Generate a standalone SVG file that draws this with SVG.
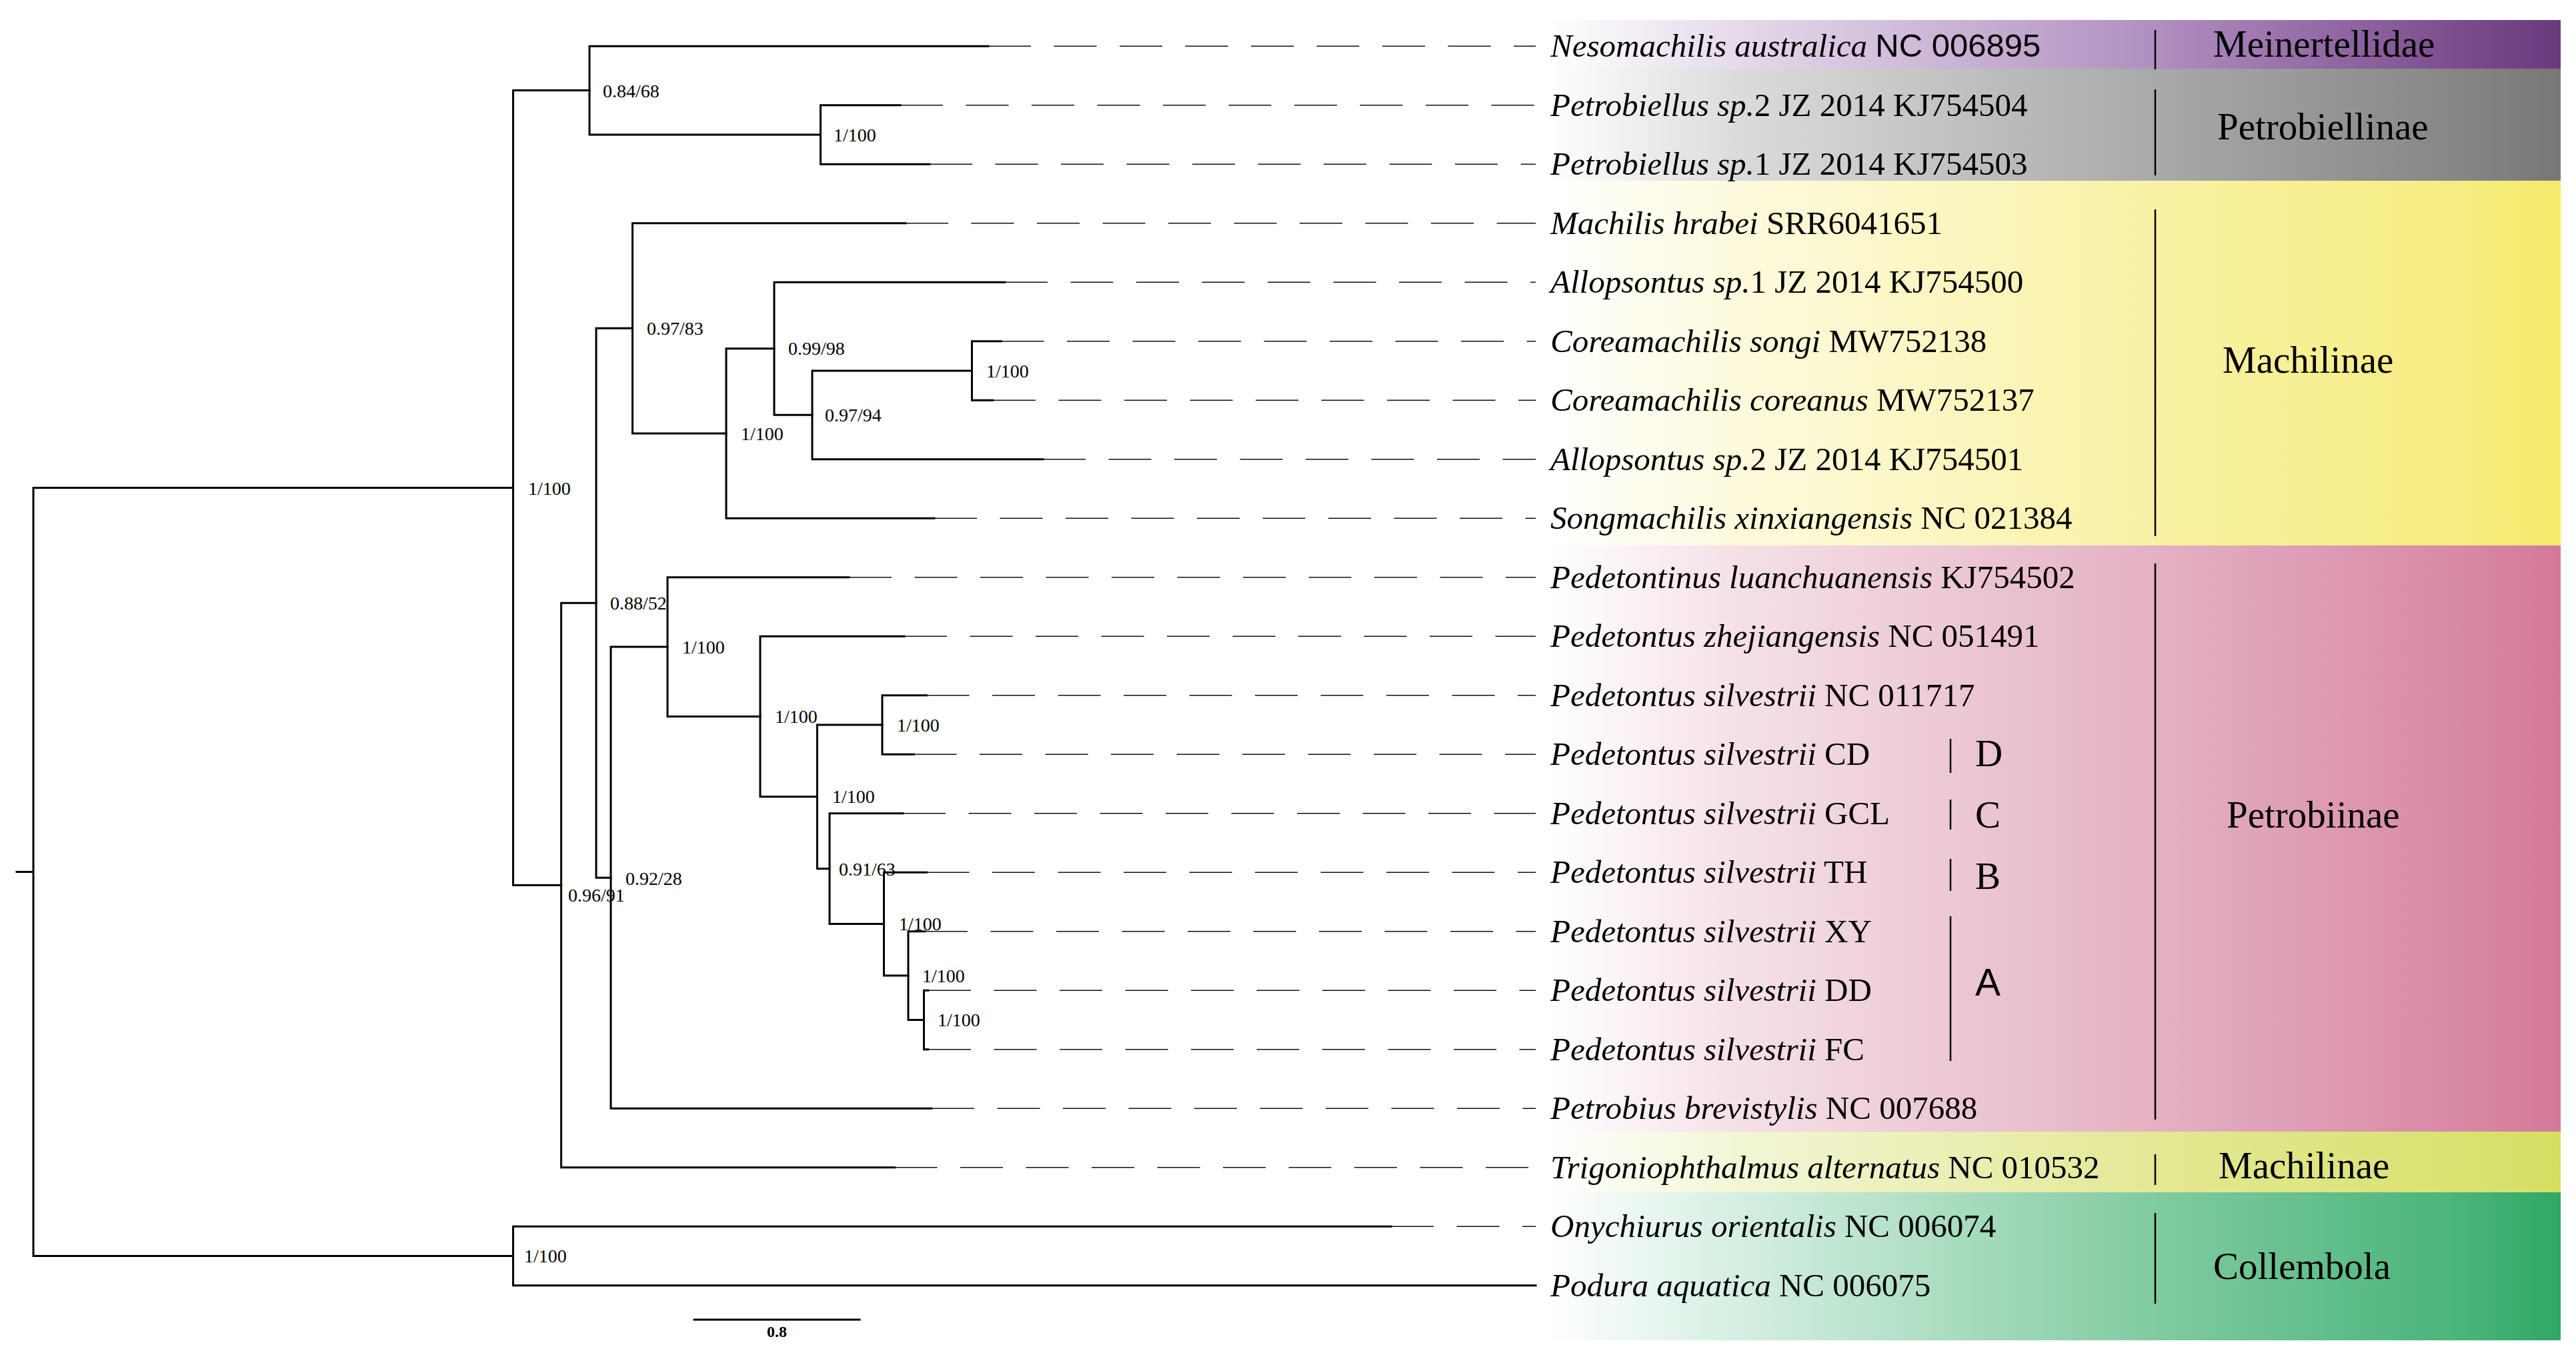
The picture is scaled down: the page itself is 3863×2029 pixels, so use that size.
<svg xmlns="http://www.w3.org/2000/svg" width="3863" height="2029" viewBox="0 0 3863 2029">
<style>
.br{fill:none;stroke:#000;stroke-width:3;stroke-linecap:square}
.ds{fill:none;stroke:#111;stroke-width:1.4;stroke-dasharray:64 34.5}
.sep{stroke:#000;stroke-width:2.5}
.sup{font-family:"Liberation Serif","Times New Roman",serif;font-size:28px;fill:#000}
.tip{font-family:"Liberation Serif","Times New Roman",serif;font-size:49px;fill:#000}
.tip .i{font-style:italic}
.grp{font-family:"Liberation Serif","Times New Roman",serif;font-size:57px;fill:#000}
.let{font-family:"Liberation Serif","Times New Roman",serif;font-size:57px;fill:#000}
.sans{font-family:"Liberation Sans",Arial,sans-serif}
</style>
<defs>
<linearGradient id="gPur" gradientUnits="userSpaceOnUse" x1="2320" y1="0" x2="3840" y2="0">
<stop offset="0" stop-color="#ffffff"/><stop offset="0.184" stop-color="#e6daeb"/><stop offset="0.6" stop-color="#b08fc0"/><stop offset="0.908" stop-color="#7b4a8c"/><stop offset="1" stop-color="#6b3a7e"/>
</linearGradient>
<linearGradient id="gGry" gradientUnits="userSpaceOnUse" x1="2320" y1="0" x2="3840" y2="0">
<stop offset="0" stop-color="#ffffff"/><stop offset="0.184" stop-color="#dcdcdc"/><stop offset="0.6" stop-color="#a9a9a9"/><stop offset="0.908" stop-color="#858585"/><stop offset="1" stop-color="#777777"/>
</linearGradient>
<linearGradient id="gYel" gradientUnits="userSpaceOnUse" x1="2320" y1="0" x2="3840" y2="0">
<stop offset="0" stop-color="#ffffff"/><stop offset="0.184" stop-color="#fdfade"/><stop offset="0.6" stop-color="#f8f2a4"/><stop offset="0.908" stop-color="#f6ec80"/><stop offset="1" stop-color="#f5eb6c"/>
</linearGradient>
<linearGradient id="gPnk" gradientUnits="userSpaceOnUse" x1="2320" y1="0" x2="3840" y2="0">
<stop offset="0" stop-color="#ffffff"/><stop offset="0.184" stop-color="#f5e1e7"/><stop offset="0.6" stop-color="#e4b1c3"/><stop offset="0.908" stop-color="#d888a5"/><stop offset="1" stop-color="#d47898"/>
</linearGradient>
<linearGradient id="gYg" gradientUnits="userSpaceOnUse" x1="2320" y1="0" x2="3840" y2="0">
<stop offset="0" stop-color="#ffffff"/><stop offset="0.184" stop-color="#f3f6d6"/><stop offset="0.6" stop-color="#e4e894"/><stop offset="0.908" stop-color="#d8e270"/><stop offset="1" stop-color="#d3df62"/>
</linearGradient>
<linearGradient id="gGrn" gradientUnits="userSpaceOnUse" x1="2320" y1="0" x2="3840" y2="0">
<stop offset="0" stop-color="#ffffff"/><stop offset="0.184" stop-color="#d6efe2"/><stop offset="0.6" stop-color="#80cba0"/><stop offset="0.908" stop-color="#48b478"/><stop offset="1" stop-color="#30a864"/>
</linearGradient>
</defs>
<rect width="3863" height="2029" fill="#fff"/>
<g id="bands">
<rect x="2320" y="30" width="1520" height="73" fill="url(#gPur)"/>
<rect x="2320" y="103" width="1520" height="168" fill="url(#gGry)"/>
<rect x="2320" y="271" width="1520" height="547" fill="url(#gYel)"/>
<rect x="2320" y="818" width="1520" height="879" fill="url(#gPnk)"/>
<rect x="2320" y="1697" width="1520" height="91" fill="url(#gYg)"/>
<rect x="2320" y="1788" width="1520" height="222" fill="url(#gGrn)"/>
</g>
<g id="connectors">
<path class="br" d="M25 1307.5H50M50 731.5V1883.5M50 731.5H769.5M50 1883.5H769.5"/>
<path class="br" d="M769.5 135.6V1327.5M769.5 135.6H884M769.5 1327.5H841.6"/>
<path class="br" d="M884 69.2V202M884 69.2H1482M884 202H1230.5"/>
<path class="br" d="M1230.5 157.7V246.2M1230.5 157.7H1350M1230.5 246.2H1394"/>
<path class="br" d="M841.6 904.2V1750.7M841.6 904.2H894M841.6 1750.7H1341.5"/>
<path class="br" d="M894 492.3V1316.2M894 492.3H948.5M894 1316.2H916"/>
<path class="br" d="M948.5 334.7V650M948.5 334.7H1358M948.5 650H1089"/>
<path class="br" d="M1089 522.8V777.2M1089 522.8H1161M1089 777.2H1401"/>
<path class="br" d="M1161 423.2V622.3M1161 423.2H1507M1161 622.3H1218"/>
<path class="br" d="M1218 556V688.7M1218 556H1457.5M1218 688.7H1564"/>
<path class="br" d="M1457.5 511.7V600.2M1457.5 511.7H1501.5M1457.5 600.2H1489"/>
<path class="br" d="M916 970.1V1662.2M916 970.1H1001M916 1662.2H1397"/>
<path class="br" d="M1001 865.7V1074.5M1001 865.7H1273M1001 1074.5H1140"/>
<path class="br" d="M1140 954.2V1194.8M1140 954.2H1356M1140 1194.8H1225.5"/>
<path class="br" d="M1225.5 1087V1302.7M1225.5 1087H1323M1225.5 1302.7H1244"/>
<path class="br" d="M1323 1042.7V1131.2M1323 1042.7H1389.5M1323 1131.2H1370.5"/>
<path class="br" d="M1244 1219.7V1385.6M1244 1219.7H1354M1244 1385.6H1325.5"/>
<path class="br" d="M1325.5 1308.2V1463.1M1325.5 1308.2H1389.5M1325.5 1463.1H1362"/>
<path class="br" d="M1362 1396.7V1529.5M1362 1396.7H1387M1362 1529.5H1385.5"/>
<path class="br" d="M1385.5 1485.2V1573.7M1385.5 1485.2H1392M1385.5 1573.7H1392"/>
<path class="br" d="M769.5 1839.2V1927.7M769.5 1839.2H2086M769.5 1927.7H2303"/>
<path class="ds" d="M1482 69.2H2303M1350 157.7H2303M1394 246.2H2303M1358 334.7H2303M1507 423.2H2303M1501.5 511.7H2303M1489 600.2H2303M1564 688.7H2303M1401 777.2H2303M1273 865.7H2303M1356 954.2H2303M1389.5 1042.7H2303M1370.5 1131.2H2303M1354 1219.7H2303M1389.5 1308.2H2303M1387 1396.7H2303M1392 1485.2H2303M1392 1573.7H2303M1397 1662.2H2303M1341.5 1750.7H2303M2086 1839.2H2303"/>
<path class="br" d="M1041 1979H1289"/>
</g>
<g id="support-labels" class="sup">
<text x="904" y="146">0.84/68</text>
<text x="1250" y="212">1/100</text>
<text x="792" y="742">1/100</text>
<text x="852" y="1352">0.96/91</text>
<text x="915" y="914">0.88/52</text>
<text x="970" y="502">0.97/83</text>
<text x="1111" y="660">1/100</text>
<text x="1182" y="532">0.99/98</text>
<text x="1237" y="632">0.97/94</text>
<text x="1479" y="566">1/100</text>
<text x="938" y="1327">0.92/28</text>
<text x="1023" y="980">1/100</text>
<text x="1162" y="1084">1/100</text>
<text x="1248" y="1204">1/100</text>
<text x="1345" y="1097">1/100</text>
<text x="1258" y="1313">0.91/63</text>
<text x="1348" y="1395">1/100</text>
<text x="1383" y="1473">1/100</text>
<text x="1406" y="1539">1/100</text>
<text x="786" y="1893">1/100</text>
</g>
<g id="scale-label"><text x="1165" y="2005" text-anchor="middle" style="font-family:'Liberation Serif',serif;font-size:24px;font-weight:bold">0.8</text></g>
<g class="tip">
<g id="tip0"><text x="2325" y="85"><tspan class="i">Nesomachilis australica</tspan> <tspan class="sans">NC 006895</tspan></text></g>
<g id="tip1"><text x="2325" y="174"><tspan class="i">Petrobiellus sp.</tspan>2 JZ 2014 KJ754504</text></g>
<g id="tip2"><text x="2325" y="262"><tspan class="i">Petrobiellus sp.</tspan>1 JZ 2014 KJ754503</text></g>
<g id="tip3"><text x="2325" y="351"><tspan class="i">Machilis hrabei</tspan> SRR6041651</text></g>
<g id="tip4"><text x="2325" y="439"><tspan class="i">Allopsontus sp.</tspan>1 JZ 2014 KJ754500</text></g>
<g id="tip5"><text x="2325" y="528"><tspan class="i">Coreamachilis songi</tspan> MW752138</text></g>
<g id="tip6"><text x="2325" y="616"><tspan class="i">Coreamachilis coreanus</tspan> MW752137</text></g>
<g id="tip7"><text x="2325" y="705"><tspan class="i">Allopsontus sp.</tspan>2 JZ 2014 KJ754501</text></g>
<g id="tip8"><text x="2325" y="793"><tspan class="i">Songmachilis xinxiangensis</tspan> NC 021384</text></g>
<g id="tip9"><text x="2325" y="882"><tspan class="i">Pedetontinus luanchuanensis</tspan> KJ754502</text></g>
<g id="tip10"><text x="2325" y="970"><tspan class="i">Pedetontus zhejiangensis</tspan> NC 051491</text></g>
<g id="tip11"><text x="2325" y="1059"><tspan class="i">Pedetontus silvestrii</tspan> NC 011717</text></g>
<g id="tip12"><text x="2325" y="1147"><tspan class="i">Pedetontus silvestrii</tspan> CD</text></g>
<g id="tip13"><text x="2325" y="1236"><tspan class="i">Pedetontus silvestrii</tspan> GCL</text></g>
<g id="tip14"><text x="2325" y="1324"><tspan class="i">Pedetontus silvestrii</tspan> TH</text></g>
<g id="tip15"><text x="2325" y="1413"><tspan class="i">Pedetontus silvestrii</tspan> XY</text></g>
<g id="tip16"><text x="2325" y="1501"><tspan class="i">Pedetontus silvestrii</tspan> DD</text></g>
<g id="tip17"><text x="2325" y="1590"><tspan class="i">Pedetontus silvestrii</tspan> FC</text></g>
<g id="tip18"><text x="2325" y="1678"><tspan class="i">Petrobius brevistylis</tspan> NC 007688</text></g>
<g id="tip19"><text x="2325" y="1767"><tspan class="i">Trigoniophthalmus alternatus</tspan> NC 010532</text></g>
<g id="tip20"><text x="2325" y="1855"><tspan class="i">Onychiurus orientalis</tspan> NC 006074</text></g>
<g id="tip21"><text x="2325" y="1944"><tspan class="i">Podura aquatica</tspan> NC 006075</text></g>
</g>
<g id="separators">
<path class="sep" d="M3232 45V104M3232 134V263M3232 314V804M3232 845V1679M3232 1731V1777M3232 1819V1955"/>
<path class="sep" d="M2925 1108V1159M2925 1199V1244M2925 1288V1336M2925 1374V1591"/>
</g>
<g id="groups" class="grp">
<g id="grp-meinertellidae"><text x="3319" y="85">Meinertellidae</text></g>
<g id="grp-petrobiellinae"><text x="3325" y="209">Petrobiellinae</text></g>
<g id="grp-machilinae"><text x="3333" y="559">Machilinae</text></g>
<g id="grp-petrobiinae"><text x="3339" y="1241">Petrobiinae</text></g>
<g id="grp-machilinae2"><text x="3327" y="1767">Machilinae</text></g>
<g id="grp-collembola"><text x="3319" y="1918">Collembola</text></g>
</g>
<g id="lineages" class="let">
<g id="lin-D"><text x="2962" y="1149">D</text></g>
<g id="lin-C"><text x="2962" y="1241">C</text></g>
<g id="lin-B"><text x="2962" y="1333">B</text></g>
<g id="lin-A"><text x="2962" y="1493" class="sans">A</text></g>
</g>
</svg>
